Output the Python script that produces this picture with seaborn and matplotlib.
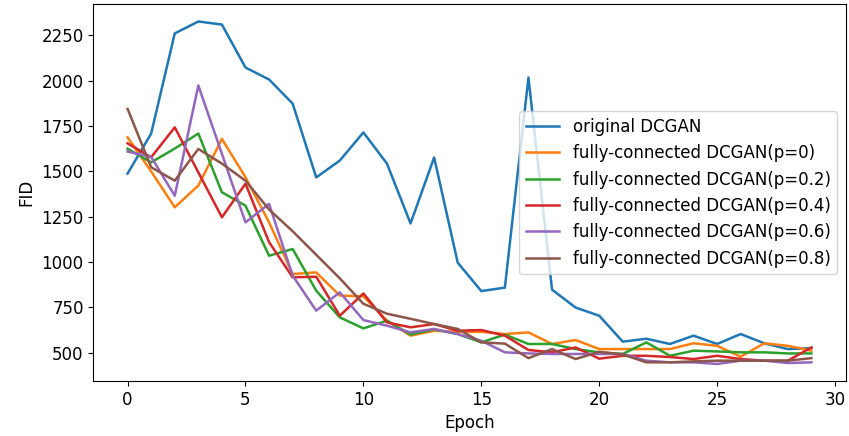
import pandas as pd
import matplotlib.pyplot as plt
import seaborn as sns

# --- data ---
EPOCHS = list(range(30))

SERIES_NAMES = [
    "original DCGAN",
    "fully-connected DCGAN(p=0)",
    "fully-connected DCGAN(p=0.2)",
    "fully-connected DCGAN(p=0.4)",
    "fully-connected DCGAN(p=0.6)",
    "fully-connected DCGAN(p=0.8)",
]

fid_original = [1488, 1709, 2261, 2327, 2310, 2073, 2007, 1874, 1467, 1560,
                1715, 1543, 1213, 1577, 997, 840, 859, 2018, 848, 749,
                704, 561, 577, 548, 594, 548, 603, 552, 520, 525]
fid_p0 = [1688, 1500, 1302, 1422, 1679, 1468, 1219, 934, 943, 815,
          811, 677, 594, 621, 615, 615, 603, 612, 548, 570,
          520, 520, 520, 520, 552, 538, 478, 552, 538, 511]
fid_p02 = [1625, 1550, 1626, 1709, 1385, 1311, 1035, 1072, 842, 695,
           634, 677, 600, 629, 603, 557, 600, 548, 548, 520,
           502, 493, 557, 483, 511, 507, 502, 502, 496, 496]
fid_p04 = [1655, 1578, 1743, 1495, 1247, 1432, 1110, 916, 919, 704,
           827, 667, 640, 658, 621, 625, 594, 515, 502, 529,
           467, 483, 483, 476, 465, 483, 465, 456, 456, 529]
fid_p06 = [1610, 1580, 1366, 1974, 1597, 1219, 1321, 925, 732, 833,
           680, 649, 612, 631, 603, 566, 502, 496, 493, 493,
           493, 493, 456, 447, 447, 438, 456, 456, 443, 447]
fid_p08 = [1845, 1523, 1449, 1624, 1543, 1449, 1290, 1170, 1040, 910,
           770, 715, 687, 658, 631, 557, 550, 470, 520, 465,
           505, 490, 447, 447, 452, 456, 456, 456, 456, 470]

PALETTE = ["#1f77b4", "#ff7f0e", "#2ca02c", "#d62728", "#9467bd", "#8c564b"]


def build_frame():
    values = [fid_original, fid_p0, fid_p02, fid_p04, fid_p06, fid_p08]
    rows = []
    for name, vals in zip(SERIES_NAMES, values):
        for e, v in zip(EPOCHS, vals):
            rows.append({"Epoch": e, "FID": v, "Model": name})
    return pd.DataFrame(rows)


def main():
    df = build_frame()
    plt.rcParams["font.family"] = ["DejaVu Sans"]
    plt.rcParams["font.size"] = 12

    fig, ax = plt.subplots(figsize=(8.49, 4.36), dpi=100)
    sns.lineplot(
        data=df,
        x="Epoch",
        y="FID",
        hue="Model",
        hue_order=SERIES_NAMES,
        palette=PALETTE,
        linewidth=1.8,
        ax=ax,
    )

    ax.set_xlabel("Epoch", fontsize=12)
    ax.set_ylabel("FID", fontsize=12)
    ax.set_yticks([500, 750, 1000, 1250, 1500, 1750, 2000, 2250])
    ax.set_xticks([0, 5, 10, 15, 20, 25, 30])
    ax.tick_params(labelsize=12)
    ax.legend(loc="center right", fontsize=12)

    fig.subplots_adjust(left=0.11, right=0.996, top=0.99, bottom=0.126)
    fig.savefig("out.png", dpi=100)
    plt.close(fig)


if __name__ == "__main__":
    main()
